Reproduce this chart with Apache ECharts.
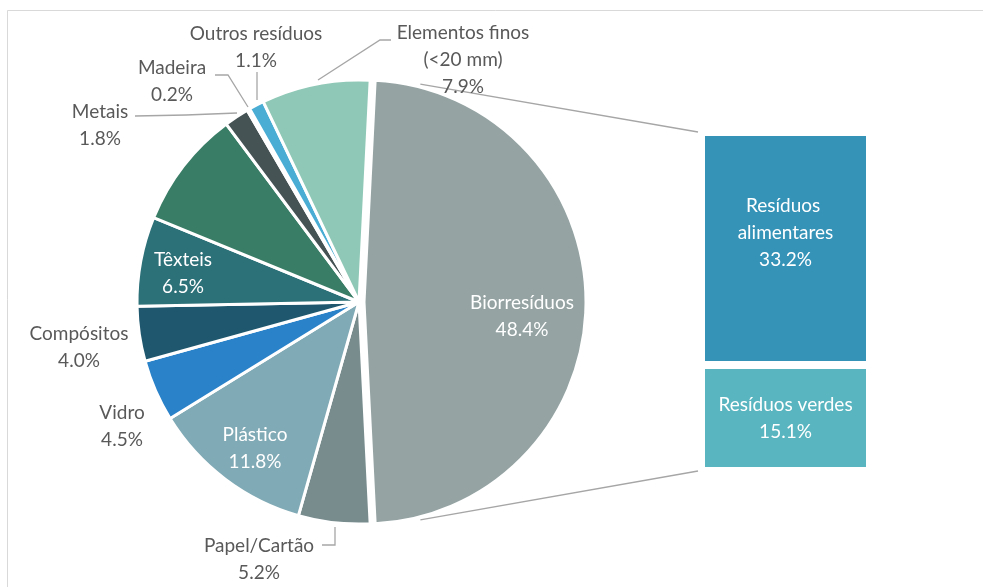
<!DOCTYPE html>
<html>
<head>
<meta charset="utf-8">
<script src="https://cdn.jsdelivr.net/npm/echarts@6/dist/echarts.min.js"></script>
<style>
html,body{margin:0;padding:0;background:#fff;}
#chart{width:983px;height:587px;}
</style>
</head>
<body>
<div id="chart"></div>
<script>
// ---- data ----
const pieCategories = ['Biorresíduos','Papel/Cartão','Plástico','Vidro','Compósitos','Têxteis','','Metais','Madeira','Outros resíduos','Elementos finos (<20 mm)'];
const pieValues = [48.4, 5.2, 11.8, 4.5, 4.0, 6.5, 8.6, 1.8, 0.2, 1.1, 7.9];
const barCategories = ['Resíduos verdes', 'Resíduos alimentares'];
const barValues = [15.1, 33.2];

// ---- styles ----
const pieColors = ['#95A3A3','#788C8E','#80AAB5','#2A82C8','#1F586E','#2C7078','#3A7D66','#465355','#8A9A9C','#4AADD4','#8FC8B6'];
const barColors = ['#59B5BF','#3593B8'];
const insideLabel = {0:true, 2:true, 5:true};
const FONT = 'Lato, "Open Sans", sans-serif';
const FS = 19;
const CX = 359, CY = 302, R = 222, EXPLODE = 5;
const SPLIT = 0; // index of the slice broken out into the bar
// label anchor positions (layout only)
const labelPos = {
  0:[522,316], 1:[259,559], 2:[255,448], 3:[122,426], 4:[79,347], 5:[183,273],
  7:[100,125], 8:[172,81], 9:[256,47], 10:[463,60]
};
const labelLines = {
  1:[[335,527],[335,545],[322,545]],
  7:[[237,113],[186,115],[135,116]],
  8:[[248,107],[228,75],[215,75]],
  9:[[257,100],[257,86],[257,72]],
  10:[[318,80],[380,40],[391,40]]
};
const GRID = {left:701, top:132, width:169, height:339};

const total = pieValues.reduce((a,b)=>a+b,0);
const startAngle = pieValues[SPLIT]/total*360/2;
const HIDDEN = 'rgba(0,0,0,0)';

function makeData(showSplit){
  return pieCategories.map((n,i)=>{
    const visible = showSplit ? i===SPLIT : i!==SPLIT;
    return {
      name:n, value:pieValues[i],
      itemStyle: visible ? {color:pieColors[i]} : {color:HIDDEN, borderWidth:0},
      label:{
        show: visible && n!=='',
        color: insideLabel[i] ? '#ffffff' : '#595959'
      },
      labelLine:{show: visible && !!labelLines[i]}
    };
  });
}

function pieSeries(showSplit){
  return {
    type:'pie',
    center:[CX + (showSplit ? EXPLODE : 0), CY],
    radius:R,
    startAngle:startAngle,
    clockwise:true,
    avoidLabelOverlap:false,
    silent:true,
    itemStyle:{borderColor:'#ffffff', borderWidth:3},
    label:{
      show:true,
      position:'outside',
      fontFamily:FONT,
      fontSize:FS,
      lineHeight:27,
      align:'center',
      overflow:'none',
      formatter:p => p.name.replace(' (', '\n(') + '\n' + p.value.toFixed(1) + '%'
    },
    labelLine:{lineStyle:{color:'#A6A6A6', width:1.3}, length:10, length2:10},
    labelLayout: function(params){
      const i = params.dataIndex;
      const pos = labelPos[i];
      if(!pos) return {};
      const res = {x:pos[0], y:pos[1], align:'center', verticalAlign:'middle'};
      if(labelLines[i]) res.labelLinePoints = labelLines[i];
      return res;
    },
    emphasis:{disabled:true},
    data:makeData(showSplit)
  };
}

const chart = echarts.init(document.getElementById('chart'));
const barTotal = barValues.reduce((a,b)=>a+b,0);

chart.setOption({
  animation:false,
  backgroundColor:'#ffffff',
  textStyle:{fontFamily:FONT},
  grid:[GRID],
  xAxis:[{type:'category', data:['b'], show:false, gridIndex:0}],
  yAxis:[{type:'value', min:0, max:barTotal, show:false, gridIndex:0}],
  series:[
    pieSeries(false),
    pieSeries(true),
    ...barCategories.map((n,i)=>({
      type:'bar',
      name:n,
      stack:'s',
      barWidth:'100%',
      xAxisIndex:0, yAxisIndex:0,
      data:[barValues[i]],
      itemStyle:{color:barColors[i], borderColor:'#ffffff', borderWidth:4},
      label:{
        show:true,
        position:'inside',
        color:'#ffffff',
        fontFamily:FONT,
        fontSize:FS,
        lineHeight:27,
        width:155,
        overflow:'break',
        offset: i===1 ? [0,-16] : [0,0],
        formatter:p => p.seriesName + '\n' + p.value.toFixed(1) + '%'
      },
      emphasis:{disabled:true}
    }))
  ]
});

// connector lines from the broken-out slice to the bar corners
const ang = 75.5 * Math.PI/180;
const RL = R + 3;
const bx = CX + EXPLODE;
const topStart = [bx + RL*Math.cos(ang), CY - RL*Math.sin(ang)];
const botStart = [bx + RL*Math.cos(ang), CY + RL*Math.sin(ang)];
const barTop = chart.convertToPixel({gridIndex:0}, [0, barTotal]);
const barBot = chart.convertToPixel({gridIndex:0}, [0, 0]);
const barLeft = GRID.left - 3;

chart.setOption({
  graphic:[
    {type:'rect', shape:{x:7.5, y:10.5, width:1100, height:700}, style:{fill:'none', stroke:'#D9D9D9', lineWidth:1}, silent:true, z:-10},
    {type:'line', shape:{x1:topStart[0], y1:topStart[1], x2:barLeft, y2:barTop[1]}, style:{stroke:'#A6A6A6', lineWidth:1.3}, z:1},
    {type:'line', shape:{x1:botStart[0], y1:botStart[1], x2:barLeft, y2:barBot[1]}, style:{stroke:'#A6A6A6', lineWidth:1.3}, z:1}
  ]
});
</script>
</body>
</html>
